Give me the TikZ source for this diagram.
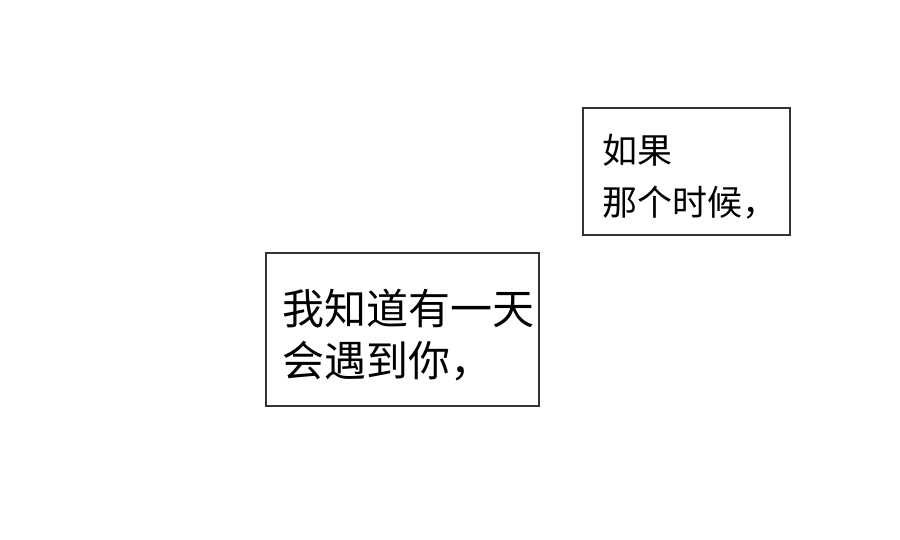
\documentclass[tikz,border=0pt]{standalone}
\usepackage{fontspec}
\newfontfamily\cjk{Noto Sans CJK SC}
\begin{document}
\begin{tikzpicture}[x=0.5pt,y=-0.5pt,
  box/.style={draw=black!80,line width=0.8pt},
  t1/.style={anchor=west,inner sep=0,font=\cjk\fontsize{17.5}{20}\selectfont},
  t2/.style={anchor=west,inner sep=0,font=\cjk\fontsize{21}{24}\selectfont}]
\useasboundingbox (0,0) rectangle (900,540);
\draw[box] (583,108) rectangle (790,235);
\node[t1] (a1) at (602,150) {如果};
\node[t1] (a2) at (602,203) {那个时候，};
\draw[box] (266,253) rectangle (539,406);
\node[t2] (b1) at (282,309) {我知道有一天};
\node[t2] (b2) at (282,361) {会遇到你，};
\end{tikzpicture}
\end{document}
